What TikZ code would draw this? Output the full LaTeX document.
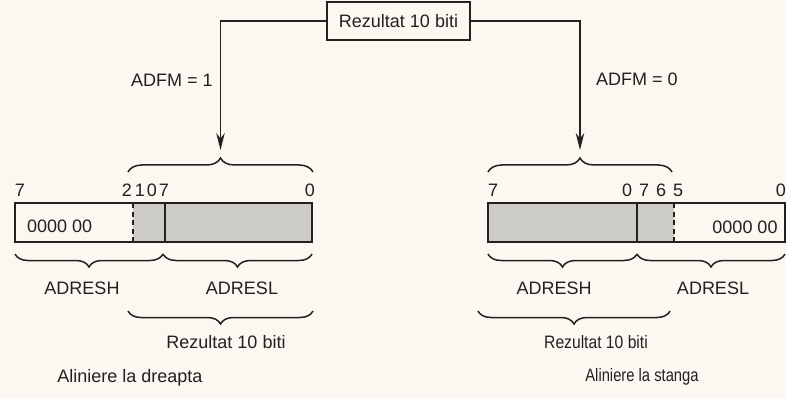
\documentclass[tikz,border=0pt]{standalone}
\usepackage{fontspec}
\setmainfont{Liberation Sans}
\usetikzlibrary{decorations.pathreplacing,arrows.meta}
\definecolor{paper}{RGB}{250,248,240}
\definecolor{ink}{RGB}{35,32,30}
\definecolor{shadegray}{RGB}{205,203,197}
\begin{document}
\begin{tikzpicture}[x=1pt,y=-1pt,
  txt/.style={font=\fontsize{18}{21}\selectfont, text=ink, inner sep=0pt},
  regbox/.style={draw=ink, line width=1.6pt, inner sep=0pt, minimum height=39pt},
  brc/.style={decorate, decoration={brace, amplitude=14pt}, draw=ink, line width=1.5pt},
  brcdown/.style={decorate, decoration={brace, mirror, amplitude=13pt}, draw=ink, line width=1.5pt},
  conn/.style={draw=ink, line width=1.5pt},
  arr/.style={conn, -{Stealth[length=17pt,width=8.5pt]}},
  divsolid/.style={draw=ink, line width=1.5pt},
  divdash/.style={draw=ink, line width=1.8pt, dash pattern=on 5pt off 3.5pt},
]
\fill[paper] (0,0) rectangle (786,398);
\useasboundingbox (0,0) rectangle (786,398);

% top box
\node[txt, draw=ink, line width=1.7pt, minimum width=143pt, minimum height=38pt] (top) at (398.5,21) {Rezultat 10 biti};

% arrows
\coordinate (la) at (220.5,150);
\coordinate (ra) at (580,150);
\draw[arr] (top.west) -| (la);
\draw[arr] (top.east) -| (ra);
\node[txt, anchor=west] (adfm1) at (131,80) {ADFM = 1};
\node[txt, anchor=west] (adfm0) at (596,79) {ADFM = 0};

% top braces
\coordinate (lt1) at (128,172); \coordinate (lt2) at (313,172);
\coordinate (rt1) at (488,172); \coordinate (rt2) at (672,172);
\draw[brc] (lt1) -- (lt2);
\draw[brc] (rt1) -- (rt2);

% left register
\fill[shadegray] (133,203) rectangle (312,242);
\node[regbox, minimum width=297pt] (lreg) at (163.5,222.5) {};
\draw[divdash] (133,203) -- (133,242);
\draw[divsolid] (165,203) -- (165,242);
\node[txt, anchor=west] (lzero) at (27,226) {0000 00};
\node[txt] (lb7) at (20,190) {7};
\node[txt] (lb2) at (127,190) {2};
\node[txt] (lb1) at (140,190) {1};
\node[txt] (lb0) at (152,190) {0};
\node[txt] (lb7b) at (164,190) {7};
\node[txt] (lb0b) at (310,190) {0};

% right register
\fill[shadegray] (488,203) rectangle (674,242);
\node[regbox, minimum width=297pt] (rreg) at (636.5,222.5) {};
\draw[divsolid] (637,203) -- (637,242);
\draw[divdash] (674,203) -- (674,242);
\node[txt] (rzero) at (745,227) {0000 00};
\node[txt] (rb7) at (493,190) {7};
\node[txt] (rb0) at (627,190) {0};
\node[txt] (rb7b) at (644,190) {7};
\node[txt] (rb6) at (661,190) {6};
\node[txt] (rb5) at (678,190) {5};
\node[txt, anchor=east] (rb0b) at (786,190) {0};

% lower braces
\draw[brcdown] (15,254) -- (163,254);
\draw[brcdown] (163,254) -- (312,254);
\draw[brcdown] (488,254) -- (637,254);
\draw[brcdown] (637,254) -- (785,254);

\node[txt] (lh) at (82,288) {ADRESH};
\node[txt] (ll) at (242,288) {ADRESL};
\node[txt] (rh) at (554,288) {ADRESH};
\node[txt] (rl) at (713,288) {ADRESL};

% result braces
\draw[brcdown] (128,311) -- (313,311);
\draw[brcdown] (478,311) -- (670,311);
\node[txt] (lres) at (226,342) {Rezultat 10 biti};
\node[txt] (rres) at (596,342) {\scalebox{0.87}[1]{Rezultat 10 biti}};

\node[txt] (lal) at (130,378) {Aliniere la dreapta};
\node[txt] (ral) at (642,377) {\scalebox{0.82}[1]{Aliniere la stanga}};
\end{tikzpicture}
\end{document}
